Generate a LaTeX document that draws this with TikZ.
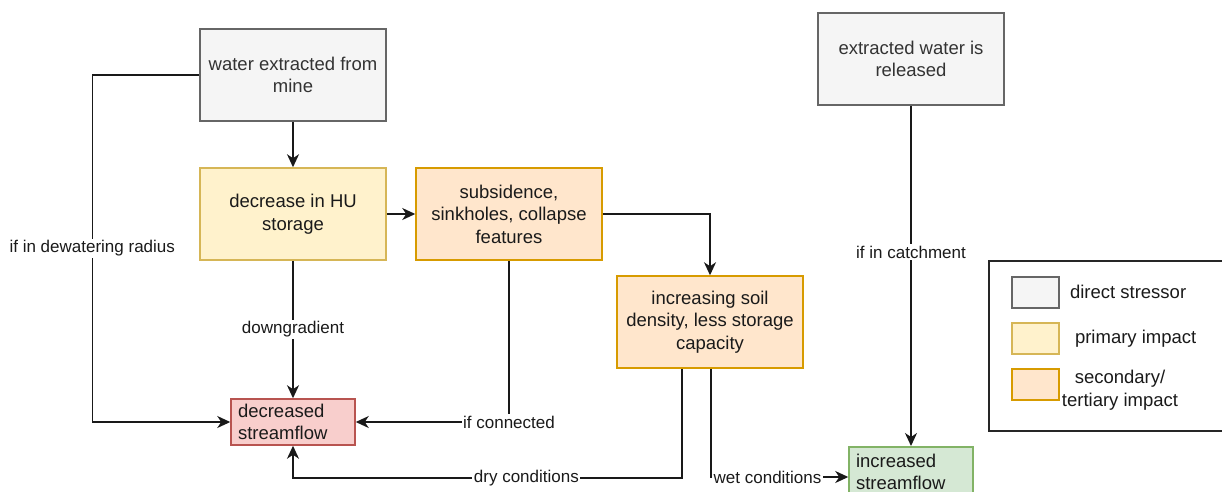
\documentclass[tikz,border=0pt]{standalone}
\usepackage{fontspec}
\setmainfont{Liberation Sans}
\usetikzlibrary{arrows.meta,positioning}

\definecolor{strfill}{HTML}{F5F5F5}
\definecolor{strline}{HTML}{666666}
\definecolor{primfill}{HTML}{FFF2CC}
\definecolor{primline}{HTML}{D6B656}
\definecolor{secfill}{HTML}{FFE6CC}
\definecolor{secline}{HTML}{D79B00}
\definecolor{downfill}{HTML}{F8CECC}
\definecolor{downline}{HTML}{B85450}
\definecolor{upfill}{HTML}{D5E8D4}
\definecolor{upline}{HTML}{82B366}
\definecolor{inktext}{HTML}{1A1A1A}

\newcommand{\boxfont}{\fontsize{18.5}{22.5}\selectfont}
\newcommand{\lblfont}{\fontsize{17}{20}\selectfont}

\tikzset{
  >={Stealth[length=13pt,width=12pt,inset=4pt]},
  box/.style={draw, line width=1.5pt, minimum width=186pt, minimum height=92pt, align=center, font=\boxfont, inner sep=4pt, text=inktext},
  stressor/.style={box, fill=strfill, draw=strline, text=black!80},
  primary/.style={box, fill=primfill, draw=primline},
  secondary/.style={box, fill=secfill, draw=secline},
  flowbox/.style={box, minimum width=124pt, minimum height=46pt, text width=110pt, align=left, inner xsep=7pt, inner ysep=0pt},
  flow/.style={->, line width=1.5pt, draw=black!90},
  cond/.style={fill=white, inner sep=1.5pt, font=\lblfont, text=inktext},
  swatch/.style={line width=1.5pt, minimum width=47pt, minimum height=31pt, inner sep=0pt, anchor=north west}
}

\begin{document}
\begin{tikzpicture}[x=1pt, y=-1pt]
\useasboundingbox (0,0) rectangle (1222,491);

% stressors
\node[stressor] (mine) at (293,75) {water extracted from\\mine};
\node[stressor] (release) at (911,59) {extracted water is\\released};

% impacts
\node[primary] (storage) at (293,214) {decrease in HU\\storage};
\node[secondary] (subsid) at (509,214) {subsidence,\\sinkholes, collapse\\features};
\node[secondary] (soil) at (710,322) {increasing soil\\density, less storage\\capacity};

% streamflow
\node[flowbox, fill=downfill, draw=downline] (decflow) at (293,422) {decreased\\streamflow};
\node[flowbox, fill=upfill, draw=upline, minimum height=50pt, anchor=north] (incflow) at (911,446) {increased\\streamflow};

% connectors
\draw[flow] (mine) -- (storage);
\draw[flow] (mine.west) -- ++(-107,0) |- node[cond, pos=0.25] {if in dewatering radius} (decflow.west);
\draw[flow] (storage) -- node[cond] {downgradient} (decflow);
\draw[flow] (storage) -- (subsid);
\draw[flow] (subsid.east) -| (soil.north);
\draw[flow] (subsid.south) |- node[cond, pos=0.5] {if connected} (decflow.east);
\draw[flow] ([xshift=-28pt]soil.south) -- ++(0,109) -| node[cond, pos=0.2] {dry conditions} (decflow.south);
\draw[flow] ([xshift=1pt]soil.south) |- node[cond, pos=0.706] {wet conditions} (incflow.west |- 0,477);
\draw[flow] (release) -- node[cond, pos=0.43] {if in catchment} (incflow);

% legend
\node[draw=black!85, line width=1.5pt, minimum width=250pt, minimum height=170pt, anchor=north west] (legend) at (988,260) {};
\node[swatch, fill=strfill, draw=strline] (keyStress) at (1011,276) {};
\node[swatch, fill=primfill, draw=primline] (keyPrim) at (1011,322) {};
\node[swatch, fill=secfill, draw=secline] (keySec) at (1011,368) {};
\node[right=7pt of keyStress, font=\boxfont, text=inktext] (txtStress) {direct stressor};
\node[right=12pt of keyPrim, font=\boxfont, text=inktext] (txtPrim) {primary impact};
\node[font=\boxfont, align=center, text=inktext] (txtSec) at (1120,390) {secondary/\\tertiary impact};
\end{tikzpicture}
\end{document}
